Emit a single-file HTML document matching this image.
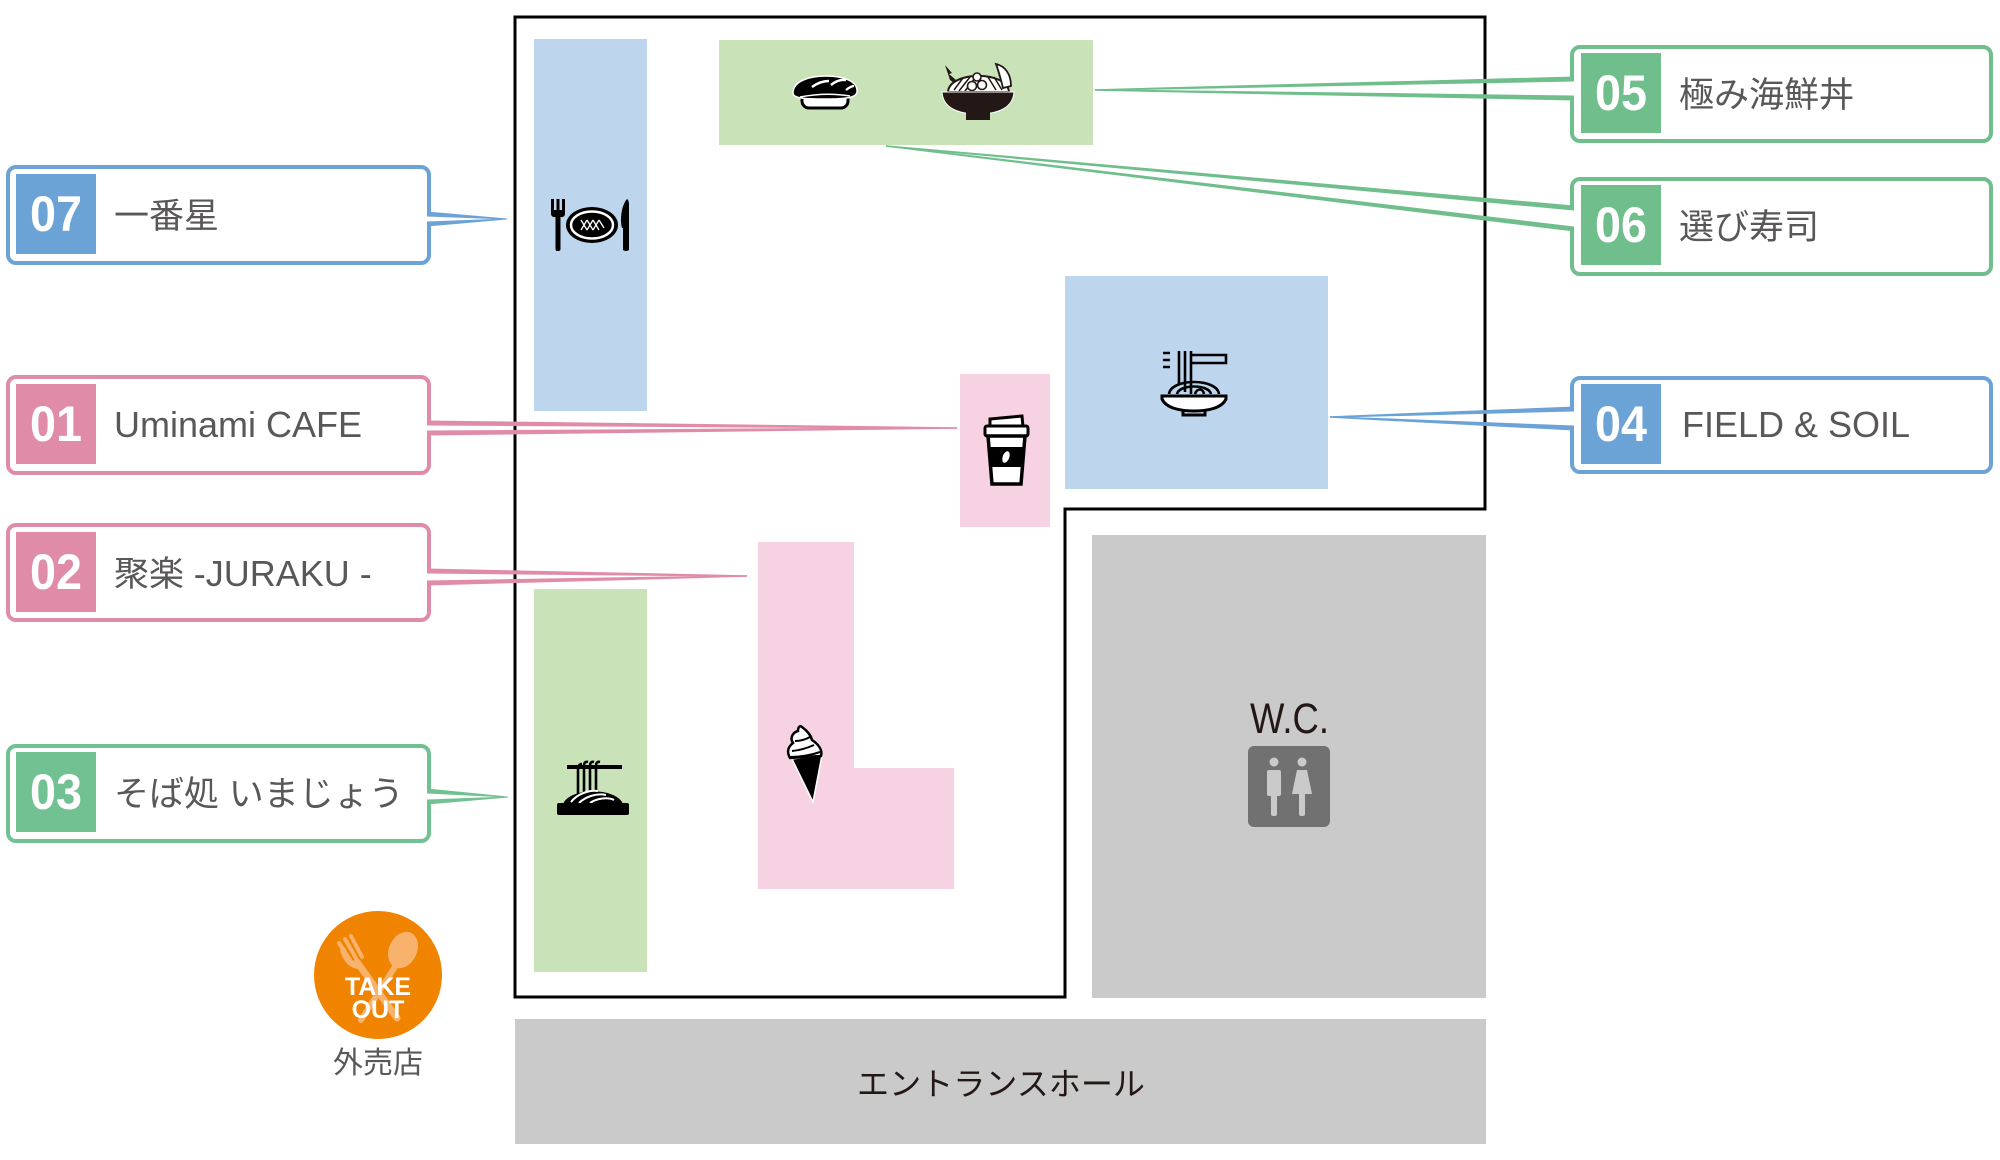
<!DOCTYPE html>
<html><head><meta charset="utf-8"><style>
html,body{margin:0;padding:0;background:#fff;}
svg{display:block;}
text{font-family:"Liberation Sans","Noto Sans CJK JP",sans-serif;}
</style></head><body>
<svg width="2000" height="1160" viewBox="0 0 2000 1160" xmlns="http://www.w3.org/2000/svg">
<rect width="2000" height="1160" fill="#fff"/>

<!-- regions -->
<rect x="534" y="39" width="113" height="372" fill="#bed6ed"/>
<rect x="719" y="40" width="374" height="105" fill="#c9e2b8"/>
<rect x="1065" y="276" width="263" height="213" fill="#bed6ed"/>
<rect x="960" y="374" width="90" height="153" fill="#f6d2e3"/>
<path d="M758,542 H854 V768 H954 V889 H758 Z" fill="#f6d2e3"/>
<rect x="534" y="589" width="113" height="383" fill="#c9e2b8"/>
<rect x="1092" y="535" width="394" height="463" fill="#cacaca"/>
<rect x="515" y="1019" width="971" height="125" fill="#cacaca"/>

<!-- frame -->
<path d="M515,17 H1485 V509 H1065 V997 H515 Z" fill="none" stroke="#000" stroke-width="3"/>

<!-- W.C. -->
<text x="1250" y="733" font-size="43" fill="#231815" textLength="79" lengthAdjust="spacingAndGlyphs">W.C.</text>
<rect x="1248" y="746" width="82" height="81" rx="6" fill="#727171"/>
<circle cx="1274" cy="762" r="4.5" fill="#cacaca"/>
<rect x="1267" y="770" width="14" height="26" rx="2" fill="#cacaca"/>
<rect x="1271" y="790" width="6" height="26" rx="2" fill="#cacaca"/>
<circle cx="1302" cy="762" r="4.5" fill="#cacaca"/>
<path d="M1297,770 H1307 L1312,794 H1292 Z" fill="#cacaca"/>
<rect x="1299" y="790" width="6" height="26" rx="2" fill="#cacaca"/>

<!-- entrance -->
<text x="857" y="1095" font-size="32" fill="#231815" textLength="288" lengthAdjust="spacingAndGlyphs">エントランスホール</text>

<!-- icon 07: fork plate knife -->
<g>
<rect x="551" y="199" width="3" height="14" fill="#000"/>
<rect x="556.5" y="199" width="3" height="14" fill="#000"/>
<rect x="562" y="199" width="3" height="14" fill="#000"/>
<rect x="551" y="210" width="14" height="7" rx="3" fill="#000"/>
<rect x="555.5" y="214" width="5" height="37" rx="2" fill="#000"/>
<ellipse cx="592" cy="225" rx="26" ry="18" fill="#000"/>
<ellipse cx="592" cy="225" rx="21" ry="13.5" fill="none" stroke="#fff" stroke-width="2.5"/>
<ellipse cx="592" cy="225" rx="15" ry="9" fill="#000"/>
<path d="M581,220 L587,230 M587,220 L581,230 M587,220 L593,230 M593,220 L587,230 M593,220 L599,230 M599,220 L593,230 M599,220 L604,228" stroke="#fff" stroke-width="1.3"/>
<path d="M627,199 C621,206 620,220 622,228 L623,228 L623,250 Q626,252 629,250 L629,205 Q629,200 627,199 Z" fill="#000"/>
</g>

<!-- sushi -->
<g>
<rect x="802" y="91" width="46" height="17" rx="7" fill="#fff" stroke="#000" stroke-width="3"/>
<path d="M793,93 C793,80 812,76 826,76 C843,76 858,81 857,92 C856,98 845,99 826,99 C808,99 793,99 793,93 Z" fill="#000" stroke="#fff" stroke-width="1.5"/>
<path d="M812,87 Q820,81 829,81" stroke="#fff" stroke-width="2.5" fill="none"/>
<path d="M831,85 Q838,79 846,80" stroke="#fff" stroke-width="2.5" fill="none"/>
<path d="M846,90 Q851,86 854,86" stroke="#fff" stroke-width="2.2" fill="none"/>
<path d="M800,97 Q826,92 850,96" stroke="#fff" stroke-width="1.5" fill="none"/>
</g>

<!-- donburi -->
<g>
<path d="M945,65 L952,73 L949,74 L956,80 L962,84 L958,86 L950,80 Z" fill="#231815"/>
<path d="M948,92 C949,71 1007,70 1009,92 Z" fill="#fff" stroke="#231815" stroke-width="2"/>
<path d="M954,90 L963,78 M959,91 L970,77 M965,91 L975,78 M988,77 L996,90 M994,77 L1002,90 M999,75 L1006,87" stroke="#231815" stroke-width="1.5"/>
<path d="M996,64 C1005,66 1011,74 1011,86 L1003,88 C1001,80 999,72 996,64 Z" fill="#fff" stroke="#231815" stroke-width="1.8"/>
<circle cx="972" cy="86" r="4.5" fill="#fff" stroke="#231815" stroke-width="1.6"/>
<circle cx="982" cy="85" r="4.5" fill="#fff" stroke="#231815" stroke-width="1.6"/>
<circle cx="977" cy="77" r="4" fill="#fff" stroke="#231815" stroke-width="1.6"/>
<path d="M942,92 H1014 C1013,108 998,114 978,114 C958,114 943,108 942,92 Z" fill="#231815" stroke="#fff" stroke-width="1"/>
<rect x="966" y="112" width="24" height="8" fill="#231815"/>
</g>

<!-- cup -->
<g>
<path d="M990,419 L1022,416 L1023,427 L990,427 Z" fill="#fff" stroke="#000" stroke-width="3"/>
<rect x="985" y="426" width="43" height="10" rx="2" fill="#fff" stroke="#000" stroke-width="3"/>
<path d="M988,436 L1025,436 L1021,484 L992,484 Z" fill="#fff" stroke="#000" stroke-width="3.5"/>
<path d="M989,447 L1024,447 L1022.5,467 L990.5,467 Z" fill="#000"/>
<ellipse cx="1006" cy="457" rx="3.3" ry="6" fill="#fff" transform="rotate(20 1006 457)"/>
</g>

<!-- noodle bowl 04 -->
<g fill="none" stroke="#000" stroke-width="2.6">
<path d="M1163,353 H1170 M1163,360 H1170 M1163,367 H1170"/>
<path d="M1190,355 H1226 V363 H1190"/>
<path d="M1179,351 V384 M1185,351 V392 M1191,351 V394"/>
<path d="M1169,394 C1171,378 1217,378 1219,394"/>
<path d="M1177,394 C1179,384 1209,384 1211,394"/>
<path d="M1195,394 C1197,388 1203,388 1204,394"/>
<path d="M1162,396 H1226 V399 C1222,408 1208,411 1194,411 C1180,411 1166,408 1162,399 Z" fill="#fff" stroke-width="3"/>
<path d="M1183,410 V415 H1205 V410" stroke-width="3"/>
</g>

<!-- soba 03 -->
<g>
<path d="M567,767 H572 M570,767 H622" stroke="#000" stroke-width="4"/>
<g fill="none" stroke="#000" stroke-width="2.6">
<path d="M578,770 V797 M584,766 V797 M590,766 V797 M596,766 V797"/>
<path d="M584,766 Q584,761 588,762 M590,766 Q590,761 594,762 M596,766 Q596,761 600,762 M578,770 Q578,764 582,764"/>
</g>
<path d="M563,804 C570,787 616,787 623,804 Z" fill="#000"/>
<path d="M571,802 C578,793 590,790 598,791 M579,803 C586,796 598,793 606,795 M590,803 C597,798 608,797 614,800" stroke="#fff" stroke-width="2" fill="none"/>
<rect x="557" y="803" width="72" height="12" rx="2" fill="#000"/>
</g>

<!-- ice cream -->
<g>
<path d="M792,759 L822,755 L813,802 Z" fill="#000" stroke="#fff" stroke-width="1.5"/>
<path d="M790,758 C786,751 789,746 793,743 C789,737 794,732 798,731 C798,727 800,725 802,727 C806,730 811,735 812,740 C818,744 823,750 821,756 Z" fill="#fff" stroke="#000" stroke-width="2.5"/>
<path d="M792,751 Q803,750 814,745 M795,741 Q803,741 810,737 M790,757 Q806,757 820,752" stroke="#000" stroke-width="2" fill="none"/>
</g>

<!-- take out -->
<g>
<circle cx="378" cy="975" r="64" fill="#f08300"/>
<g stroke="#f8b26b" stroke-linecap="round" fill="none">
<path d="M357,962 L397,1018" stroke-width="7"/>
<path d="M339,943 L352,963 M345,939 L357,960 M351,936 L362,957" stroke-width="4"/>
<path d="M343,950 Q348,966 360,966" stroke-width="6"/>
<path d="M398,962 L361,1020" stroke-width="6"/>
</g>
<ellipse cx="403" cy="950" rx="14" ry="19" fill="#f8b26b" transform="rotate(25 403 950)"/>
<text x="378" y="995" font-size="25" font-weight="bold" fill="#fff" text-anchor="middle">TAKE</text>
<text x="378" y="1018" font-size="25" font-weight="bold" fill="#fff" text-anchor="middle">OUT</text>
<text x="378" y="1073" font-size="30" fill="#595757" text-anchor="middle">外売店</text>
</g>

<!-- callouts left -->
<g fill="none" stroke-width="4">
<path d="M429,214 V175 A8 8 0 0 0 421,167 H16 A8 8 0 0 0 8,175 V255 A8 8 0 0 0 16,263 H421 A8 8 0 0 0 429,255 V224" stroke="#6ca3d7"/>
<path d="M429,423 V385 A8 8 0 0 0 421,377 H16 A8 8 0 0 0 8,385 V465 A8 8 0 0 0 16,473 H421 A8 8 0 0 0 429,465 V433" stroke="#e08ba7"/>
<path d="M429,571 V533 A8 8 0 0 0 421,525 H16 A8 8 0 0 0 8,533 V612 A8 8 0 0 0 16,620 H421 A8 8 0 0 0 429,612 V583" stroke="#e08ba7"/>
<path d="M429,791 V754 A8 8 0 0 0 421,746 H16 A8 8 0 0 0 8,754 V833 A8 8 0 0 0 16,841 H421 A8 8 0 0 0 429,833 V802" stroke="#72c193"/>
</g>
<!-- callouts right -->
<g fill="none" stroke-width="4">
<path d="M1572,79 V55 A8 8 0 0 1 1580,47 H1983 A8 8 0 0 1 1991,55 V133 A8 8 0 0 1 1983,141 H1580 A8 8 0 0 1 1572,133 V98" stroke="#6fbe8c"/>
<path d="M1572,208 V187 A8 8 0 0 1 1580,179 H1983 A8 8 0 0 1 1991,187 V266 A8 8 0 0 1 1983,274 H1580 A8 8 0 0 1 1572,266 V229" stroke="#6fbe8c"/>
<path d="M1572,409 V386 A8 8 0 0 1 1580,378 H1983 A8 8 0 0 1 1991,386 V464 A8 8 0 0 1 1983,472 H1580 A8 8 0 0 1 1572,464 V428" stroke="#6ca3d7"/>
</g>

<!-- pointer wedges -->
<g>
<polygon points="427,211.5 427,216.5 507,219.5 507,218.5" fill="#6ca3d7"/>
<polygon points="427,221.5 427,226.5 507,219.5 507,218.5" fill="#6ca3d7"/>
<polygon points="427,420.5 427,425.5 957,428.8 957,427.2" fill="#e08ba7"/>
<polygon points="427,430.5 427,435.5 957,428.8 957,427.2" fill="#e08ba7"/>
<polygon points="427,568.5 427,573.5 747,576.8 747,575.2" fill="#e08ba7"/>
<polygon points="427,580.5 427,585.5 747,576.8 747,575.2" fill="#e08ba7"/>
<polygon points="427,788.5 427,793.5 508,797.5 508,796.5" fill="#72c193"/>
<polygon points="427,799.5 427,804.5 508,797.5 508,796.5" fill="#72c193"/>
<polygon points="1574,76.5 1574,81.5 1095,90.8 1095,89.2" fill="#6fbe8c"/>
<polygon points="1574,95.5 1574,100.5 1095,90.8 1095,89.2" fill="#6fbe8c"/>
<polygon points="1574,205.5 1574,210.5 886,146.8 886,145.2" fill="#6fbe8c"/>
<polygon points="1574,226.5 1574,231.5 886,146.8 886,145.2" fill="#6fbe8c"/>
<polygon points="1574,406.5 1574,411.5 1330,417.8 1330,416.2" fill="#6ca3d7"/>
<polygon points="1574,425.5 1574,430.5 1330,417.8 1330,416.2" fill="#6ca3d7"/>
</g>

<!-- number squares -->
<rect x="16" y="174" width="80" height="80" fill="#6ca3d7"/>
<rect x="16" y="384" width="80" height="80" fill="#e08ba7"/>
<rect x="16" y="532" width="80" height="80" fill="#e08ba7"/>
<rect x="16" y="752" width="80" height="80" fill="#72c193"/>
<rect x="1581" y="53" width="80" height="80" fill="#6fbe8c"/>
<rect x="1581" y="185" width="80" height="80" fill="#6fbe8c"/>
<rect x="1581" y="384" width="80" height="80" fill="#6ca3d7"/>

<g font-size="50" font-weight="bold" fill="#fff" text-anchor="middle">
<text x="56" y="231" textLength="52" lengthAdjust="spacingAndGlyphs">07</text>
<text x="56" y="441" textLength="52" lengthAdjust="spacingAndGlyphs">01</text>
<text x="56" y="589" textLength="52" lengthAdjust="spacingAndGlyphs">02</text>
<text x="56" y="809" textLength="52" lengthAdjust="spacingAndGlyphs">03</text>
<text x="1621" y="110" textLength="52" lengthAdjust="spacingAndGlyphs">05</text>
<text x="1621" y="242" textLength="52" lengthAdjust="spacingAndGlyphs">06</text>
<text x="1621" y="441" textLength="52" lengthAdjust="spacingAndGlyphs">04</text>
</g>

<g fill="#595757">
<text x="114" y="228" font-size="35">一番星</text>
<text x="114" y="437" font-size="36">Uminami CAFE</text>
<text x="114" y="586" font-size="35">聚楽 <tspan font-size="36">-JURAKU -</tspan></text>
<text x="114" y="806" font-size="35">そば処 いまじょう</text>
<text x="1679" y="107" font-size="35">極み海鮮丼</text>
<text x="1679" y="239" font-size="35">選び寿司</text>
<text x="1682" y="437" font-size="36">FIELD &amp; SOIL</text>
</g>
</svg>
</body></html>
